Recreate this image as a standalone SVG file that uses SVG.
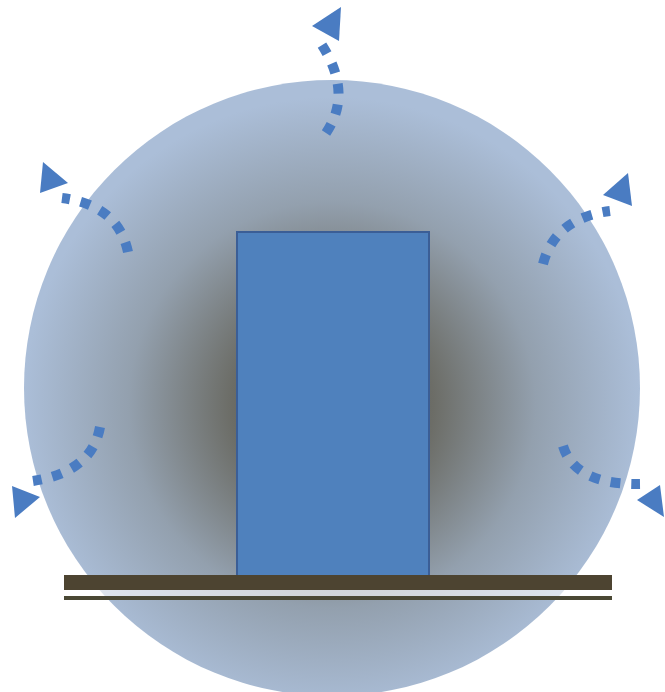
<svg xmlns="http://www.w3.org/2000/svg" width="665" height="692" viewBox="0 0 665 692">
  <defs>
    <radialGradient id="glow" gradientUnits="userSpaceOnUse" cx="332" cy="405" r="308">
      <stop offset="0" stop-color="#46433b"/>
      <stop offset="0.33" stop-color="#6c6d67"/>
      <stop offset="0.66" stop-color="#93a0ae"/>
      <stop offset="1" stop-color="#abbed8"/>
    </radialGradient>
  </defs>
  <style>
    .flow { fill: none; stroke: #4a7cc2; stroke-width: 10; stroke-dasharray: 10 11; stroke-linecap: butt; }
    .head { fill: #4a7cc2; }
  </style>
  <rect width="665" height="692" fill="#ffffff"/>
  <g id="sphere">
    <circle cx="332" cy="388" r="308" fill="url(#glow)"/>
  </g>
  <g id="block">
    <rect x="237" y="232" width="192" height="344" fill="#4f81bd" stroke="#3b5e96" stroke-width="2"/>
  </g>
  <g id="base">
    <rect x="64" y="575" width="548" height="15" fill="#4d4431"/>
    <rect x="64" y="590" width="548" height="6" fill="#ffffff" fill-opacity="0.6"/>
    <rect x="64" y="596" width="548" height="4" fill="#4a4834"/>
  </g>
  <g id="connectors">
    <path class="flow" d="M326,133 C345,105 342,75 320,42"/>
    <polygon class="head" points="341,7 312,26 339,41"/>
    <path class="flow" d="M128,252 Q118,205 62,198"/>
    <polygon class="head" points="43,162 68,183 40,193"/>
    <path class="flow" d="M543,264 Q555,218 610,211"/>
    <polygon class="head" points="628,173 603,195 632,206"/>
    <path class="flow" d="M100,427 Q92,472 33,481"/>
    <polygon class="head" points="12,486 40,497 15,518"/>
    <path class="flow" d="M563,446 Q575,485 640,484"/>
    <polygon class="head" points="660,485 637,500 664,517"/>
  </g>
</svg>
